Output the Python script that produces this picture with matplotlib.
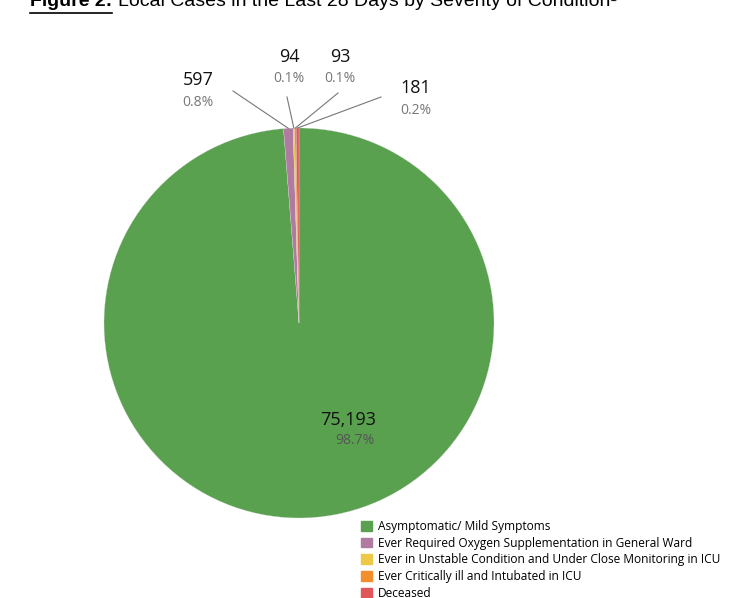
import matplotlib.pyplot as plt
import numpy as np

# data
categories = ['Asymptomatic/ Mild Symptoms',
              'Ever Required Oxygen Supplementation in General Ward',
              'Ever in Unstable Condition and Under Close Monitoring in ICU',
              'Ever Critically ill and Intubated in ICU',
              'Deceased']
cases = [75193, 597, 94, 93, 181]
colors = ['#59A14F', '#B07AA1', '#EDC948', '#F28E2B', '#E15759']

# label positions for the small slices (pixel coords, y from top)
label_pos = {1: (198, 80), 2: (289, 57), 3: (340, 57), 4: (416, 88)}
line_end = {1: (233, 91), 2: (287, 97), 3: (338, 93), 4: (381, 97)}

W, H = 747, 598
fig = plt.figure(figsize=(W / 100, H / 100), dpi=100)
ax = fig.add_axes([0, 0, 1, 1])

cx, cy, r = 299, H - 323, 195
wedges, _ = ax.pie(cases, colors=colors, startangle=90, counterclock=False,
                   center=(cx, cy), radius=r,
                   wedgeprops=dict(linewidth=0.2, edgecolor='#dddddd'))
ax.set_xlim(0, W)
ax.set_ylim(0, H)
ax.set_aspect('auto')
ax.axis('off')

total = sum(cases)

# big slice label
ax.text(348, H - 420, f'{cases[0]:,}', ha='center', va='center',
        fontsize=13, family='Open Sans', color='#111111')
ax.text(355, H - 440, f'{cases[0] / total * 100:.1f}%', ha='center',
        va='center', fontsize=10, family='Open Sans', color='#555555')

# small slices with leader lines
for i in range(1, len(cases)):
    w = wedges[i]
    ang = np.deg2rad((w.theta1 + w.theta2) / 2)
    x0 = cx + r * np.cos(ang)
    y0 = cy + r * np.sin(ang)
    ex, ey = line_end[i]
    ax.plot([x0, ex], [y0, H - ey], color='#777777', lw=0.8)
    lx, ly = label_pos[i]
    ax.text(lx, H - ly, f'{cases[i]:,}', ha='center', va='center',
            fontsize=13, family='Open Sans', color='#111111')
    ax.text(lx, H - ly - 22, f'{cases[i] / total * 100:.1f}%', ha='center',
            va='center', fontsize=10, family='Open Sans', color='#777777')

# title (clipped at top like the original)
ty = H - 2
t1 = ax.text(30, ty, 'Figure 2:', ha='left', va='center', fontsize=14,
             fontweight='bold', family=['Liberation Sans Narrow', 'Liberation Sans'])
fig.canvas.draw()
bb = t1.get_window_extent()
ax.plot([bb.x0, bb.x1], [H - 13, H - 13], color='black', lw=1.2)
ax.text(bb.x1 + 6, ty, 'Local Cases in the Last 28 Days by Severity of Condition\u00b9',
        ha='left', va='center', fontsize=14,
        family=['Liberation Sans Narrow', 'Liberation Sans'])

# legend
handles = [plt.Rectangle((0, 0), 1, 1, color=c) for c in colors]
leg = ax.legend(handles, categories, loc='upper left',
                bbox_to_anchor=(356 / W, 1 - 515 / H), frameon=False,
                prop={'family': 'Open Sans', 'size': 8.6},
                handlelength=0.9, handleheight=0.9, handletextpad=0.5,
                labelspacing=0.32, borderaxespad=0)

fig.savefig('out.png', dpi=100)
